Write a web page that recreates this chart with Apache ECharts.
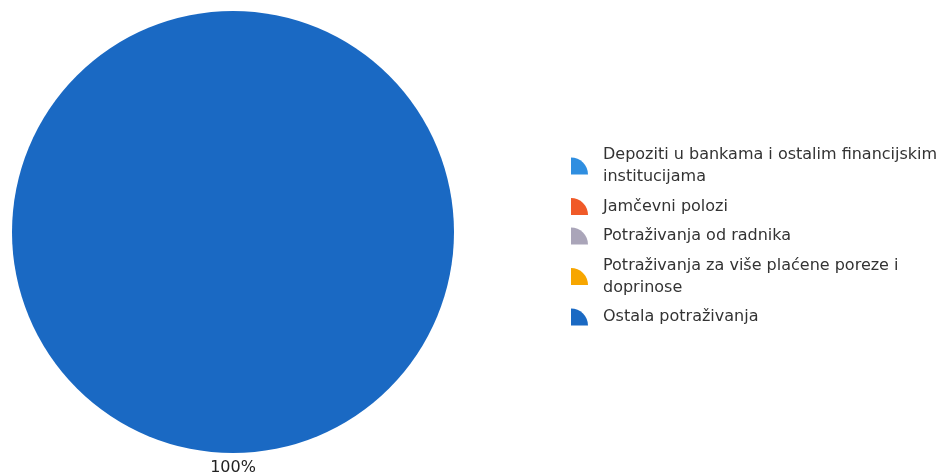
<!DOCTYPE html>
<html>
<head>
<meta charset="utf-8">
<script src="https://cdn.jsdelivr.net/npm/echarts@6/dist/echarts.min.js"></script>
<style>html,body{margin:0;padding:0;background:#fff}#c{width:948px;height:474px}</style>
</head>
<body>
<div id="c"></div>
<script>
const categories = [
  'Depoziti u bankama i ostalim financijskim institucijama',
  'Jamčevni polozi',
  'Potraživanja od radnika',
  'Potraživanja za više plaćene poreze i doprinose',
  'Ostala potraživanja'
];
const values = [0, 0, 0, 0, 100];
const colors = ['#2f8ee0', '#f05a28', '#aaa5b9', '#f7a600', '#1a69c3'];

const chart = echarts.init(document.getElementById('c'), null, {renderer: 'canvas'});
const total = values.reduce((a, b) => a + b, 0);
chart.setOption({
  animation: false,
  color: colors,
  legend: {
    orient: 'vertical',
    left: 566,
    top: 139,
    itemWidth: 17,
    itemHeight: 17,
    itemGap: 7.5,
    icon: 'path://M0,16 L0,0 A16,16 0 0 1 16,16 Z',
    textStyle: {
      fontFamily: 'DejaVu Sans',
      fontSize: 16,
      color: '#333',
      lineHeight: 22,
      width: 360,
      overflow: 'break',
      padding: [0, 0, 0, 10]
    },
    data: categories
  },
  series: [{
    type: 'pie',
    center: [233, 232],
    radius: 221,
    startAngle: 90,
    clockwise: true,
    avoidLabelOverlap: false,
    itemStyle: {borderWidth: 0},
    emphasis: {disabled: true},
    label: {
      position: 'outside',
      distanceToLabelLine: 0,
      fontFamily: 'DejaVu Sans',
      fontSize: 16,
      color: '#222',
      formatter: p => p.value > 0 ? Math.round(p.value / total * 100) + '%' : ''
    },
    labelLine: {show: false, length: 15, length2: 0},
    labelLayout: {align: 'center', verticalAlign: 'middle'},
    data: categories.map((n, i) => ({
      name: n,
      value: values[i],
      label: {show: values[i] > 0}
    }))
  }]
});
</script>
</body>
</html>
